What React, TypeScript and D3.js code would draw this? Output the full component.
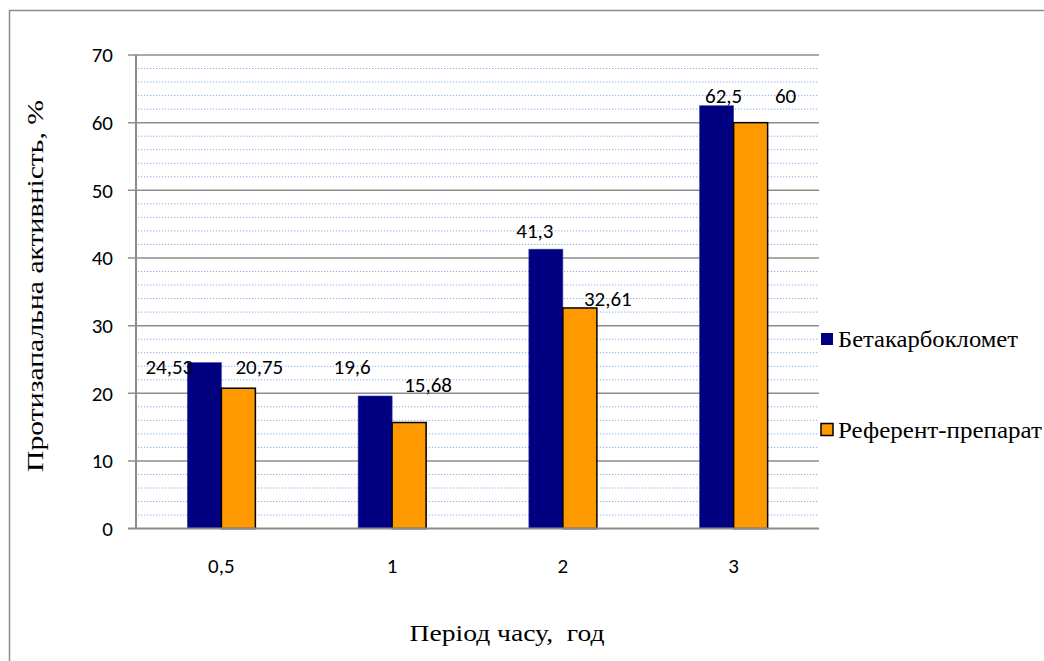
import React from "react";
import * as d3 from "d3";

const periods = ["0,5", "1", "2", "3"];
const betaValues = [24.53, 19.6, 41.3, 62.5];
const refValues = [20.75, 15.68, 32.61, 60];
const seriesNames = ["Бетакарбокломет", "Референт-препарат"];
const yTicks = [0, 10, 20, 30, 40, 50, 60, 70];
const minorTicks = d3.range(0, 70, 2).filter((v) => v % 10 !== 0);

// hand-placed label nudges (dx, dy) relative to bar top centre
const betaLabelNudge = [[-35, 11], [-23, -22], [-11, -11], [7, -3]];
const refLabelNudge = [[21, -14], [19, -31], [28, -2], [35, -20]];

const fmt = (v: number) => String(v).replace(".", ",");

const sans = '"Carlito", "Calibri", "Lato"';
const serif = '"Liberation Serif", "Times New Roman"';

export default function App() {
  const W = 1044;
  const H = 661;
  const left = 136;
  const right = 819;
  const top = 55;
  const bottom = 528.6;

  const x = d3.scaleBand<string>().domain(periods).range([left, right]);
  const y = d3.scaleLinear().domain([0, 70]).range([bottom, top]);
  const barW = 34;

  const blue = "#000080";
  const orange = "#FF9900";
  const sansStyle = { fontFamily: sans, fontSize: "21px" } as React.CSSProperties;
  const serifStyle = { fontFamily: serif, fontSize: "23px" } as React.CSSProperties;

  const legendY = [347, 438];
  const legendLen = [180, 204];

  return (
    <svg
      width={W}
      height={H}
      style={{ position: "absolute", left: 0, top: 0, background: "#fff" }}
    >
      <rect x={9.5} y={10.5} width={1060} height={700} fill="#fff" stroke="#8c8c8c" strokeWidth={1.5} />

      {/* minor gridlines */}
      {minorTicks.map((v) => (
        <line
          key={"m" + v}
          x1={left + 2}
          x2={right}
          y1={y(v)}
          y2={y(v)}
          stroke="#8EB0E8"
          strokeWidth={1}
          strokeDasharray="1.3 1.7"
        />
      ))}
      {/* major gridlines with tick marks */}
      {yTicks.slice(1).map((v) => (
        <line key={"g" + v} x1={left - 8} x2={right} y1={y(v)} y2={y(v)} stroke="#8c8c8c" strokeWidth={1.5} />
      ))}

      {/* bars */}
      {periods.map((p, i) => {
        const c = (x(p) as number) + x.bandwidth() / 2;
        return (
          <g key={p}>
            <rect x={c - barW} y={y(betaValues[i])} width={barW} height={y(0) - y(betaValues[i])} fill={blue} stroke="#3a3ab0" strokeWidth={0.6} />
            <rect x={c} y={y(refValues[i])} width={barW} height={y(0) - y(refValues[i])} fill={orange} stroke="#000" strokeWidth={1.5} />
          </g>
        );
      })}

      {/* axes */}
      <line x1={left} x2={left} y1={top} y2={bottom} stroke="#8c8c8c" strokeWidth={2} />
      <line x1={left - 8} x2={right} y1={bottom} y2={bottom} stroke="#8c8c8c" strokeWidth={2} />

      {yTicks.map((v) => (
        <text key={"t" + v} x={113} y={y(v)} dy="0.35em" textAnchor="end" style={sansStyle} fill="#000">
          {v}
        </text>
      ))}
      {periods.map((p) => (
        <text key={"x" + p} x={(x(p) as number) + x.bandwidth() / 2} y={573} textAnchor="middle" style={sansStyle} fill="#000">
          {p}
        </text>
      ))}

      {/* data labels */}
      {periods.map((p, i) => {
        const c = (x(p) as number) + x.bandwidth() / 2;
        return (
          <g key={"l" + p} fill="#000" textAnchor="middle">
            <text style={sansStyle} x={c - barW / 2 + betaLabelNudge[i][0]} y={y(betaValues[i]) + betaLabelNudge[i][1]}>
              {fmt(betaValues[i])}
            </text>
            <text style={sansStyle} x={c + barW / 2 + refLabelNudge[i][0]} y={y(refValues[i]) + refLabelNudge[i][1]}>
              {fmt(refValues[i])}
            </text>
          </g>
        );
      })}

      {/* legend */}
      <rect x={821} y={333} width={12} height={12} fill={blue} />
      <rect x={821} y={423.5} width={12} height={12} fill={orange} stroke="#000" strokeWidth={1.5} />
      {seriesNames.map((name, i) => (
        <text
          key={name}
          transform={`translate(838,${legendY[i]})`}
          style={serifStyle}
          fill="#000"
          textLength={legendLen[i]}
          lengthAdjust="spacingAndGlyphs"
        >
          {name}
        </text>
      ))}

      {/* axis titles */}
      <text
        transform="translate(43,286) rotate(-90)"
        textAnchor="middle"
        style={serifStyle}
        fill="#000"
        textLength={372}
        lengthAdjust="spacingAndGlyphs"
      >
        Протизапальна активність, %
      </text>
      <text
        x={507}
        y={641}
        textAnchor="middle"
        style={{ ...serifStyle, whiteSpace: "pre" }}
        fill="#000"
        textLength={195}
        lengthAdjust="spacingAndGlyphs"
      >
        {"Період часу,  год"}
      </text>
    </svg>
  );
}
